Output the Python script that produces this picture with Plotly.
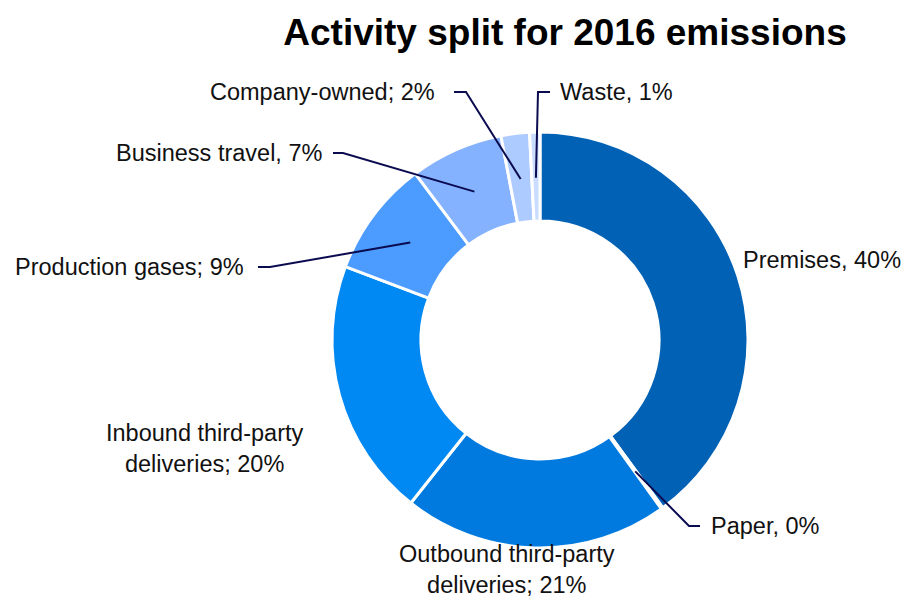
import math
import plotly.graph_objects as go

# ---- data ----
categories = ["Premises", "Paper", "Outbound third-party deliveries", "Inbound third-party deliveries",
              "Production gases", "Business travel", "Company-owned", "Waste"]
values = [39.8, 0.15, 20.5, 20.0, 9.0, 7.2, 2.2, 0.8]
label_texts = ["Premises, 40%", "Paper, 0%", "Outbound third-party<br>deliveries; 21%",
               "Inbound third-party<br>deliveries; 20%", "Production gases; 9%",
               "Business travel, 7%", "Company-owned; 2%", "Waste, 1%"]
colors = ["#0061B5", "#D0E2FF", "#007ADF", "#0088F3", "#4C9BFF", "#85B2FF", "#AECBFF", "#CADCFF"]

W, H = 902, 600
CX, CY, R = 540, 340, 208

def px_x(x):
    return x / W

def px_y(y):
    return 1 - y / H

fig = go.Figure(go.Pie(
    labels=categories, values=values, sort=False, direction="clockwise", rotation=0,
    hole=0.572, textinfo="none", hoverinfo="skip",
    marker=dict(colors=colors, line=dict(color="white", width=3)),
    domain=dict(x=[px_x(CX - R), px_x(CX + R)], y=[px_y(CY + R), px_y(CY - R)]),
    showlegend=False,
))

label_layout = {
    "Premises": dict(x=741, y=260, xanchor="left", elbow=None),
    "Paper": dict(x=709, y=526, xanchor="left", elbow=[(689, 526), (700, 526)]),
    "Outbound third-party deliveries": dict(x=507, y=569, xanchor="center", elbow=None),
    "Inbound third-party deliveries": dict(x=205, y=448, xanchor="center", elbow=None),
    "Production gases": dict(x=246, y=267, xanchor="right", elbow=[(270, 267), (258, 267)]),
    "Business travel": dict(x=324, y=153, xanchor="right", elbow=[(343, 153), (333, 153)]),
    "Company-owned": dict(x=437, y=92, xanchor="right", elbow=[(466, 92), (454, 92)]),
    "Waste": dict(x=558, y=92, xanchor="left", elbow=[(538, 92), (550, 92)]),
}

total = sum(values)
cum = 0.0
shapes = []
annotations = []
font_family = "Liberation Sans, Arial, sans-serif"
for cat, v, txt in zip(categories, values, label_texts):
    theta = 2 * math.pi * (cum + v / 2) / total
    cum += v
    lay = label_layout[cat]
    annotations.append(dict(
        text=txt, x=px_x(lay["x"]), y=px_y(lay["y"]), xref="paper", yref="paper",
        xanchor=lay["xanchor"], yanchor="middle", showarrow=False, align="center",
        font=dict(family=font_family, size=23.5, color="#111111"),
    ))
    if lay["elbow"]:
        r_in = 0.78 * R
        sx = CX + r_in * math.sin(theta)
        sy = CY - r_in * math.cos(theta)
        pts = [(sx, sy)] + lay["elbow"]
        path = "M " + " L ".join(f"{px_x(a)},{px_y(b)}" for a, b in pts)
        shapes.append(dict(type="path", path=path, xref="paper", yref="paper",
                           line=dict(color="#0B0B50", width=2)))

fig.update_layout(
    width=W, height=H, margin=dict(l=0, r=0, t=0, b=0),
    paper_bgcolor="white", plot_bgcolor="white",
    title=dict(text="<b>Activity split for 2016 emissions</b>", x=565 / W, xanchor="center",
               y=px_y(32), yanchor="middle",
               font=dict(family=font_family, size=37, color="#000000")),
    shapes=shapes, annotations=annotations,
)

fig.write_html("out.html")
